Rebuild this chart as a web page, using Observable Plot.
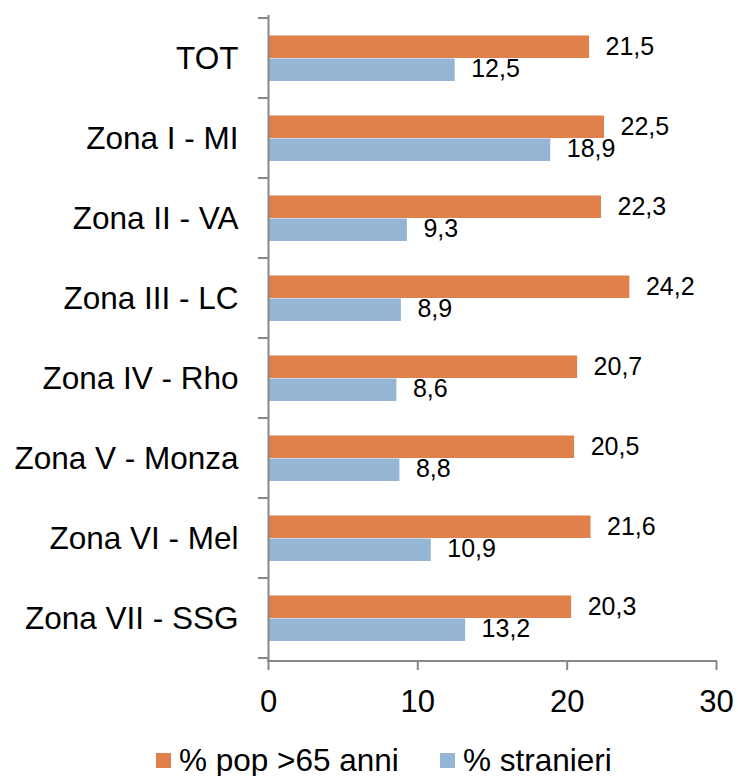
<!DOCTYPE html>
<html>
<head>
<meta charset="utf-8">
<script src="https://cdn.jsdelivr.net/npm/d3@7"></script>
<script src="https://cdn.jsdelivr.net/npm/@observablehq/plot@0.6"></script>
<style>
  body { margin: 0; background: #fff; font-family: "Liberation Sans", Arial, sans-serif; }
  #wrap { position: relative; width: 738px; height: 776px; }
  #legend { position: absolute; top: 744px; left: 0; width: 738px; height: 32px; font-size: 31.5px; color: #000; }
  .item { position: absolute; top: 0; display: flex; align-items: center; height: 32px; white-space: nowrap; }
  .sw { width: 15px; height: 15px; margin-right: 8px; }
</style>
</head>
<body>
<div id="wrap">
  <div id="chart"></div>
  <div id="legend"></div>
</div>
<script>
const categories = ["TOT", "Zona I - MI", "Zona II - VA", "Zona III - LC", "Zona IV - Rho", "Zona V - Monza", "Zona VI - Mel", "Zona VII - SSG"];
const seriesNames = ["% pop >65 anni", "% stranieri"];
const pop65 = [21.5, 22.5, 22.3, 24.2, 20.7, 20.5, 21.6, 20.3];
const stranieri = [12.5, 18.9, 9.3, 8.9, 8.6, 8.8, 10.9, 13.2];
const xTicks = [0, 10, 20, 30];
const colors = ["#E0804A", "#95B5D5"];

const fmt = v => v.toFixed(1).replace(".", ",");
const dataA = categories.map((c, i) => ({cat: c, v: pop65[i]}));
const dataB = categories.map((c, i) => ({cat: c, v: stranieri[i]}));

const axisColor = "#888888";

const boundaryTicks = (index, scales, values, dimensions) => {
  const g = d3.create("svg:g");
  const y = scales.y, x = scales.x;
  const bw = y.bandwidth();
  const ys = categories.map(c => y(c));
  ys.push(y(categories[categories.length - 1]) + bw);
  const x0 = x(0);
  for (const yy of ys) {
    g.append("line").attr("x1", x0 - 10).attr("x2", x0).attr("y1", yy).attr("y2", yy)
      .attr("stroke", axisColor).attr("stroke-width", 2);
  }
  const yb = dimensions.height - dimensions.marginBottom;
  g.append("line").attr("x1", x0 - 1).attr("x2", x(30) + 1).attr("y1", yb).attr("y2", yb)
    .attr("stroke", axisColor).attr("stroke-width", 2);
  return g.node();
};

const chart = Plot.plot({
  width: 738,
  height: 724,
  marginLeft: 268,
  marginRight: 22,
  marginTop: 15,
  marginBottom: 63,
  style: { fontFamily: "Liberation Sans, Arial, sans-serif", color: "#000", background: "#fff" },
  x: { domain: [0, 30] },
  y: { domain: categories, padding: 0 },
  marks: [
    Plot.barX(dataA, { x: "v", y: "cat", fill: colors[0], insetTop: 17.5, insetBottom: 40 }),
    Plot.barX(dataB, { x: "v", y: "cat", fill: colors[1], insetTop: 40.5, insetBottom: 17 }),
    Plot.text(dataA, { x: "v", y: "cat", text: d => fmt(d.v), textAnchor: "start", dx: 16, dy: -12, fontSize: 25, fill: "#000" }),
    Plot.text(dataB, { x: "v", y: "cat", text: d => fmt(d.v), textAnchor: "start", dx: 16, dy: 10.5, fontSize: 25, fill: "#000" }),
    Plot.ruleX([0], { stroke: axisColor, strokeWidth: 2 }),
    boundaryTicks,
    Plot.axisY({ tickSize: 0, tickPadding: 30, fontSize: 31.5, label: null }),
    Plot.axisX({ ticks: xTicks, tickSize: 9, tickPadding: 19, fontSize: 31, label: null, stroke: axisColor, strokeWidth: 2, tickFormat: d => String(d), fill: "#000" })
  ]
});
document.getElementById("chart").appendChild(chart);

const legend = document.getElementById("legend");
const lefts = [156, 440];
seriesNames.forEach((n, i) => {
  const it = document.createElement("div");
  it.className = "item";
  it.style.left = lefts[i] + "px";
  const sw = document.createElement("div");
  sw.className = "sw";
  sw.style.background = colors[i];
  const t = document.createElement("span");
  t.textContent = n;
  it.appendChild(sw); it.appendChild(t);
  legend.appendChild(it);
});
</script>
</body>
</html>
